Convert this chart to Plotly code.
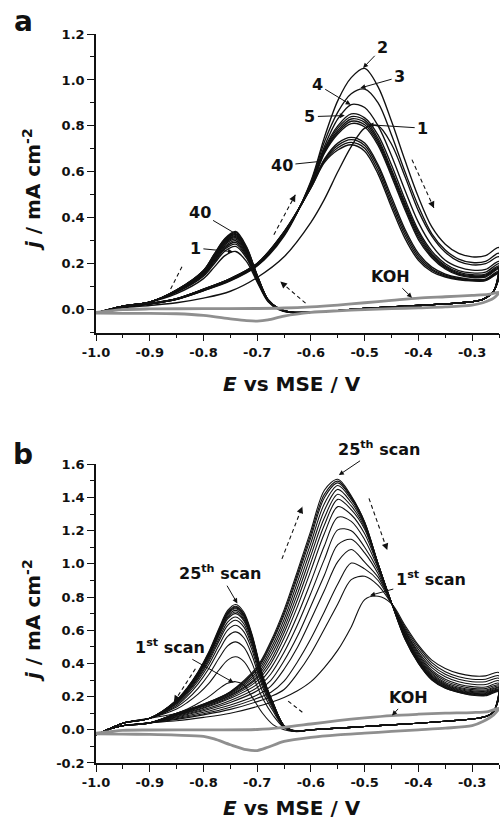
import plotly.graph_objects as go

# ---------------- panel (a): scans 1 ... 40 ----------------
EA_FWD = [-1.0, -0.95, -0.9, -0.85, -0.8, -0.75, -0.7, -0.65, -0.6, -0.575, -0.55,
          -0.525, -0.5, -0.475, -0.45, -0.425, -0.4, -0.375, -0.35, -0.325, -0.3, -0.275, -0.25]
# anodic branches (mA cm-2), scan 1, 2, 3, 4, 5, then later scans down to scan 40
A_FWD = [
    [-0.012, 0.008, 0.018, 0.03, 0.05, 0.08, 0.14, 0.23, 0.38, 0.48, 0.60, 0.71, 0.79, 0.80, 0.72, 0.58, 0.43, 0.32, 0.25, 0.21, 0.195, 0.20, 0.23],
    [-0.015, 0.012, 0.025, 0.045, 0.082, 0.125, 0.19, 0.32, 0.56, 0.75, 0.91, 1.01, 1.05, 0.97, 0.82, 0.65, 0.49, 0.36, 0.285, 0.245, 0.23, 0.235, 0.27],
    [-0.015, 0.012, 0.025, 0.045, 0.083, 0.127, 0.192, 0.325, 0.555, 0.73, 0.86, 0.94, 0.96, 0.90, 0.76, 0.60, 0.45, 0.33, 0.26, 0.22, 0.205, 0.21, 0.245],
    [-0.015, 0.012, 0.025, 0.045, 0.084, 0.128, 0.193, 0.328, 0.55, 0.71, 0.83, 0.893, 0.88, 0.80, 0.67, 0.52, 0.38, 0.28, 0.215, 0.185, 0.172, 0.175, 0.21],
    [-0.015, 0.012, 0.025, 0.045, 0.085, 0.13, 0.195, 0.33, 0.545, 0.70, 0.80, 0.852, 0.835, 0.76, 0.63, 0.48, 0.345, 0.255, 0.20, 0.17, 0.16, 0.163, 0.20],
    [-0.015, 0.012, 0.025, 0.046, 0.086, 0.131, 0.196, 0.332, 0.545, 0.695, 0.79, 0.84, 0.825, 0.745, 0.61, 0.465, 0.335, 0.245, 0.192, 0.163, 0.152, 0.155, 0.19],
    [-0.015, 0.012, 0.025, 0.046, 0.086, 0.132, 0.197, 0.333, 0.54, 0.69, 0.78, 0.83, 0.815, 0.735, 0.60, 0.455, 0.325, 0.238, 0.187, 0.158, 0.148, 0.15, 0.185],
    [-0.015, 0.012, 0.026, 0.047, 0.087, 0.133, 0.198, 0.334, 0.54, 0.685, 0.772, 0.82, 0.805, 0.725, 0.59, 0.445, 0.315, 0.232, 0.182, 0.154, 0.144, 0.146, 0.18],
    [-0.015, 0.012, 0.026, 0.047, 0.087, 0.133, 0.199, 0.335, 0.535, 0.68, 0.765, 0.81, 0.795, 0.715, 0.58, 0.435, 0.305, 0.226, 0.177, 0.15, 0.14, 0.142, 0.178],
    [-0.015, 0.012, 0.026, 0.047, 0.088, 0.134, 0.20, 0.336, 0.535, 0.655, 0.725, 0.75, 0.725, 0.63, 0.49, 0.35, 0.245, 0.185, 0.155, 0.14, 0.132, 0.133, 0.168],
    [-0.015, 0.012, 0.026, 0.048, 0.088, 0.134, 0.20, 0.337, 0.533, 0.65, 0.715, 0.74, 0.715, 0.62, 0.475, 0.338, 0.235, 0.178, 0.15, 0.136, 0.129, 0.13, 0.163],
    [-0.015, 0.012, 0.027, 0.048, 0.089, 0.135, 0.201, 0.338, 0.531, 0.645, 0.705, 0.728, 0.703, 0.605, 0.46, 0.325, 0.225, 0.172, 0.146, 0.133, 0.127, 0.128, 0.16],
    [-0.015, 0.012, 0.027, 0.048, 0.089, 0.135, 0.202, 0.34, 0.53, 0.64, 0.695, 0.718, 0.69, 0.59, 0.445, 0.31, 0.215, 0.165, 0.142, 0.13, 0.125, 0.126, 0.157],
]
# cathodic branches: common tail, scan-dependent peak region, common foot
EA_REV_BASE = [-0.26, -0.28, -0.3, -0.35, -0.4, -0.45, -0.5, -0.55, -0.6]
EA_REV_PEAK = [-0.64, -0.66, -0.68, -0.7, -0.72, -0.74, -0.76, -0.78, -0.8, -0.85]
EA_REV_FOOT = [-0.9, -0.95, -1.0]
A_REV_BASE = [0.08, 0.045, 0.035, 0.025, 0.018, 0.012, 0.005, -0.004, -0.012]
A_REV_PEAK = [
    [-0.012, 0.0, 0.035, 0.12, 0.21, 0.253, 0.235, 0.185, 0.135, 0.07],
    [-0.012, 0.002, 0.038, 0.125, 0.225, 0.275, 0.255, 0.20, 0.145, 0.075],
    [-0.012, 0.002, 0.039, 0.13, 0.232, 0.285, 0.264, 0.207, 0.15, 0.077],
    [-0.011, 0.003, 0.04, 0.133, 0.238, 0.293, 0.27, 0.212, 0.153, 0.078],
    [-0.011, 0.003, 0.04, 0.137, 0.244, 0.30, 0.276, 0.217, 0.156, 0.08],
    [-0.011, 0.004, 0.041, 0.14, 0.25, 0.307, 0.283, 0.222, 0.159, 0.081],
    [-0.011, 0.004, 0.041, 0.142, 0.255, 0.313, 0.288, 0.226, 0.162, 0.082],
    [-0.01, 0.004, 0.042, 0.144, 0.259, 0.318, 0.292, 0.229, 0.164, 0.083],
    [-0.01, 0.005, 0.042, 0.145, 0.262, 0.322, 0.296, 0.232, 0.166, 0.084],
    [-0.01, 0.005, 0.043, 0.147, 0.265, 0.327, 0.30, 0.235, 0.167, 0.084],
    [-0.01, 0.005, 0.043, 0.148, 0.268, 0.331, 0.304, 0.237, 0.168, 0.085],
    [-0.01, 0.005, 0.044, 0.149, 0.271, 0.336, 0.307, 0.24, 0.17, 0.085],
    [-0.01, 0.005, 0.044, 0.15, 0.274, 0.34, 0.31, 0.242, 0.171, 0.086],
]
A_REV_FOOT = [0.033, 0.015, -0.015]

# blank electrolyte (KOH), panel (a)
A_KOH_E = [-1.0, -0.95, -0.9, -0.8, -0.7, -0.65, -0.6, -0.55, -0.5, -0.45, -0.4, -0.35, -0.3, -0.27, -0.25,
           -0.26, -0.28, -0.3, -0.35, -0.4, -0.45, -0.5, -0.55, -0.6, -0.65, -0.68, -0.7, -0.72, -0.75,
           -0.8, -0.85, -0.9, -0.95, -1.0]
A_KOH_J = [-0.012, 0.0, 0.003, 0.004, 0.005, 0.007, 0.012, 0.02, 0.03, 0.04, 0.05, 0.056, 0.062, 0.066, 0.075,
           0.05, 0.03, 0.02, 0.012, 0.008, 0.004, 0.0, -0.005, -0.012, -0.028, -0.045, -0.05, -0.048, -0.04,
           -0.025, -0.018, -0.016, -0.016, -0.015]

# ---------------- panel (b): scans 1 ... 25 ----------------
EB_FWD_FOOT = [-1.0, -0.97, -0.95, -0.9]
B_FWD_FOOT = [-0.03, 0.01, 0.025, 0.042]
EB_FWD = [-0.85, -0.8, -0.75, -0.7, -0.675, -0.65, -0.625, -0.6, -0.575, -0.55, -0.525, -0.5,
          -0.475, -0.45, -0.425, -0.4, -0.375, -0.35, -0.325, -0.3, -0.275, -0.25]
B_FWD = [
    [0.055, 0.075, 0.10, 0.14, 0.165, 0.195, 0.235, 0.29, 0.375, 0.48, 0.62, 0.785, 0.805, 0.76, 0.63, 0.51, 0.42, 0.37, 0.34, 0.325, 0.325, 0.345],
    [0.063, 0.09, 0.123, 0.17, 0.20, 0.243, 0.34, 0.46, 0.607, 0.758, 0.905, 0.925, 0.87, 0.76, 0.62, 0.50, 0.405, 0.35, 0.32, 0.305, 0.305, 0.325],
    [0.068, 0.097, 0.136, 0.19, 0.225, 0.293, 0.41, 0.55, 0.712, 0.879, 1.005, 0.97, 0.90, 0.762, 0.61, 0.485, 0.39, 0.335, 0.305, 0.29, 0.29, 0.31],
    [0.073, 0.106, 0.15, 0.21, 0.262, 0.365, 0.498, 0.665, 0.839, 1.014, 1.087, 1.01, 0.92, 0.764, 0.60, 0.47, 0.375, 0.32, 0.29, 0.275, 0.273, 0.295],
    [0.078, 0.115, 0.165, 0.235, 0.297, 0.416, 0.565, 0.746, 0.932, 1.116, 1.148, 1.066, 0.94, 0.765, 0.595, 0.46, 0.36, 0.305, 0.275, 0.26, 0.258, 0.28],
    [0.082, 0.122, 0.177, 0.255, 0.335, 0.467, 0.633, 0.824, 1.027, 1.205, 1.20, 1.10, 0.96, 0.765, 0.59, 0.45, 0.35, 0.295, 0.265, 0.25, 0.248, 0.27],
    [0.086, 0.13, 0.19, 0.275, 0.369, 0.512, 0.69, 0.894, 1.109, 1.281, 1.256, 1.146, 0.975, 0.765, 0.58, 0.44, 0.34, 0.285, 0.257, 0.242, 0.24, 0.262],
    [0.089, 0.135, 0.198, 0.295, 0.397, 0.553, 0.744, 0.961, 1.183, 1.345, 1.296, 1.181, 0.985, 0.765, 0.575, 0.432, 0.333, 0.278, 0.25, 0.235, 0.233, 0.255],
    [0.091, 0.14, 0.205, 0.31, 0.418, 0.584, 0.785, 1.009, 1.234, 1.389, 1.327, 1.209, 0.99, 0.765, 0.57, 0.425, 0.325, 0.272, 0.245, 0.23, 0.228, 0.25],
    [0.093, 0.143, 0.21, 0.32, 0.443, 0.611, 0.821, 1.051, 1.278, 1.42, 1.349, 1.221, 0.995, 0.765, 0.565, 0.42, 0.32, 0.267, 0.24, 0.225, 0.223, 0.245],
    [0.095, 0.147, 0.216, 0.335, 0.466, 0.638, 0.856, 1.09, 1.322, 1.449, 1.37, 1.233, 1.0, 0.765, 0.56, 0.415, 0.315, 0.262, 0.236, 0.221, 0.219, 0.241],
    [0.097, 0.15, 0.221, 0.35, 0.487, 0.665, 0.891, 1.127, 1.363, 1.472, 1.387, 1.239, 1.0, 0.765, 0.555, 0.41, 0.31, 0.258, 0.232, 0.217, 0.215, 0.238],
    [0.098, 0.152, 0.225, 0.363, 0.508, 0.692, 0.921, 1.16, 1.399, 1.488, 1.398, 1.248, 1.0, 0.765, 0.55, 0.405, 0.305, 0.255, 0.229, 0.214, 0.212, 0.235],
    [0.099, 0.154, 0.228, 0.371, 0.519, 0.707, 0.939, 1.181, 1.419, 1.499, 1.404, 1.253, 1.0, 0.765, 0.548, 0.402, 0.302, 0.252, 0.227, 0.211, 0.209, 0.232],
    [0.10, 0.155, 0.23, 0.381, 0.531, 0.723, 0.958, 1.202, 1.444, 1.51, 1.411, 1.25, 1.0, 0.765, 0.545, 0.40, 0.30, 0.25, 0.225, 0.208, 0.205, 0.23],
]
EB_REV_BASE = [-0.26, -0.275, -0.3, -0.35, -0.4, -0.45, -0.5, -0.55, -0.6]
EB_REV_PEAK = [-0.63, -0.65, -0.67, -0.69, -0.71, -0.725, -0.74, -0.755, -0.77, -0.79, -0.81, -0.83, -0.85]
EB_REV_FOOT = [-0.9, -0.95, -1.0]
B_REV_BASE = [0.11, 0.08, 0.065, 0.052, 0.04, 0.03, 0.02, 0.01, 0.0]
B_REV_PEAK = [
    [-0.01, 0.0, 0.03, 0.10, 0.20, 0.27, 0.29, 0.28, 0.25, 0.20, 0.16, 0.125, 0.10],
    [-0.01, 0.012, 0.085, 0.19, 0.335, 0.413, 0.44, 0.42, 0.365, 0.28, 0.215, 0.165, 0.125],
    [-0.01, 0.015, 0.11, 0.23, 0.405, 0.498, 0.53, 0.506, 0.437, 0.333, 0.25, 0.185, 0.138],
    [-0.01, 0.018, 0.123, 0.257, 0.452, 0.555, 0.59, 0.563, 0.485, 0.37, 0.277, 0.203, 0.147],
    [-0.009, 0.02, 0.132, 0.274, 0.483, 0.592, 0.63, 0.601, 0.517, 0.394, 0.294, 0.215, 0.155],
    [-0.009, 0.021, 0.139, 0.287, 0.506, 0.62, 0.66, 0.63, 0.542, 0.412, 0.307, 0.224, 0.16],
    [-0.008, 0.022, 0.144, 0.297, 0.522, 0.639, 0.68, 0.649, 0.558, 0.424, 0.316, 0.23, 0.164],
    [-0.008, 0.023, 0.148, 0.306, 0.537, 0.658, 0.70, 0.668, 0.575, 0.436, 0.325, 0.237, 0.168],
    [-0.008, 0.023, 0.15, 0.31, 0.545, 0.667, 0.71, 0.677, 0.583, 0.442, 0.33, 0.24, 0.17],
    [-0.007, 0.024, 0.153, 0.315, 0.553, 0.677, 0.72, 0.687, 0.591, 0.449, 0.334, 0.243, 0.172],
    [-0.007, 0.024, 0.155, 0.319, 0.561, 0.686, 0.73, 0.696, 0.599, 0.455, 0.339, 0.247, 0.174],
    [-0.007, 0.024, 0.156, 0.321, 0.564, 0.691, 0.735, 0.701, 0.603, 0.458, 0.341, 0.248, 0.175],
    [-0.006, 0.025, 0.157, 0.323, 0.568, 0.696, 0.74, 0.706, 0.608, 0.461, 0.343, 0.25, 0.176],
    [-0.006, 0.025, 0.158, 0.326, 0.572, 0.70, 0.745, 0.711, 0.612, 0.464, 0.346, 0.252, 0.178],
    [-0.005, 0.025, 0.16, 0.33, 0.58, 0.71, 0.755, 0.72, 0.62, 0.47, 0.35, 0.255, 0.18],
]
B_REV_FOOT = [0.07, 0.04, -0.03]

B_KOH_E = [-1.0, -0.95, -0.9, -0.8, -0.7, -0.65, -0.6, -0.55, -0.5, -0.45, -0.4, -0.35, -0.3, -0.27, -0.25,
           -0.26, -0.28, -0.3, -0.35, -0.4, -0.45, -0.5, -0.55, -0.6, -0.65, -0.68, -0.7, -0.72, -0.75,
           -0.78, -0.8, -0.85, -0.9, -0.95, -1.0]
B_KOH_J = [-0.02, -0.003, -0.001, 0.0, 0.002, 0.015, 0.035, 0.055, 0.072, 0.086, 0.094, 0.10, 0.104, 0.11, 0.13,
           0.09, 0.05, 0.025, 0.01, 0.0, -0.01, -0.02, -0.03, -0.045, -0.07, -0.105, -0.125, -0.12, -0.09,
           -0.055, -0.04, -0.032, -0.028, -0.026, -0.025]

# axis ticks
X_TICKS = [-1.0, -0.9, -0.8, -0.7, -0.6, -0.5, -0.4, -0.3]
X_TICKTEXT = ["-1.0", "-0.9", "-0.8", "-0.7", "-0.6", "-0.5", "-0.4", "-0.3"]
A_YTICKS = [0.0, 0.2, 0.4, 0.6, 0.8, 1.0, 1.2]
A_YTICKTEXT = ["0.0", "0.2", "0.4", "0.6", "0.8", "1.0", "1.2"]
B_YTICKS = [-0.2, 0.0, 0.2, 0.4, 0.6, 0.8, 1.0, 1.2, 1.4, 1.6]
B_YTICKTEXT = ["-0.2", "0.0", "0.2", "0.4", "0.6", "0.8", "1.0", "1.2", "1.4", "1.6"]

BLACK = "#111111"
GREY = "#8f8f8f"
FONT = "DejaVu Sans"

fig = go.Figure()


def add_loop(xa, ya, fwd_e, fwd_j, rev_e, rev_j, width=1.1):
    fig.add_trace(go.Scatter(
        x=list(fwd_e) + list(rev_e), y=list(fwd_j) + list(rev_j), xaxis=xa, yaxis=ya,
        mode="lines", line=dict(color=BLACK, width=width, shape="spline", smoothing=0.9),
        hoverinfo="skip", showlegend=False))


# panel (a) loops
for fwd, peak in zip(A_FWD, A_REV_PEAK):
    add_loop("x", "y", EA_FWD, fwd,
             EA_REV_BASE + EA_REV_PEAK + EA_REV_FOOT, A_REV_BASE + peak + A_REV_FOOT, width=1.35)

# panel (b) loops
for fwd, peak in zip(B_FWD, B_REV_PEAK):
    add_loop("x2", "y2", EB_FWD_FOOT + EB_FWD, B_FWD_FOOT + fwd,
             EB_REV_BASE + EB_REV_PEAK + EB_REV_FOOT, B_REV_BASE + peak + B_REV_FOOT, width=1.1)

# KOH blanks
for xa, ya, e, j in (("x", "y", A_KOH_E, A_KOH_J), ("x2", "y2", B_KOH_E, B_KOH_J)):
    fig.add_trace(go.Scatter(x=e, y=j, xaxis=xa, yaxis=ya, mode="lines",
                             line=dict(color=GREY, width=2.8, shape="spline", smoothing=0.8),
                             hoverinfo="skip", showlegend=False))

# scan-direction arrows (dashed)
DIR_A = [((-0.84, 0.187), (-0.862, 0.086)), ((-0.669, 0.326), (-0.629, 0.50)),
         ((-0.412, 0.653), (-0.371, 0.442)), ((-0.61, 0.028), (-0.657, 0.122))]
DIR_B = [((-0.815, 0.368), (-0.855, 0.167)), ((-0.654, 1.03), (-0.616, 1.345)),
         ((-0.492, 1.395), (-0.458, 1.083)), ((-0.616, 0.106), (-0.644, 0.177))]

annotations = []
for xa, ya, arrows in (("x", "y", DIR_A), ("x2", "y2", DIR_B)):
    for (x0, y0), (x1, y1) in arrows:
        fig.add_trace(go.Scatter(x=[x0, x1], y=[y0, y1], xaxis=xa, yaxis=ya, mode="lines",
                                 line=dict(color=BLACK, width=1.1, dash="4px,3px"),
                                 hoverinfo="skip", showlegend=False))
        annotations.append(dict(x=x1, y=y1, ax=x1 - 0.12 * (x1 - x0), ay=y1 - 0.12 * (y1 - y0),
                                xref=xa, yref=ya, axref=xa, ayref=ya, text="", showarrow=True,
                                arrowhead=2, arrowsize=1.2, arrowwidth=1.1, arrowcolor=BLACK,
                                standoff=0, startstandoff=0))

# curve labels: (text, text position, arrow tip, arrow head style)
LABELS_A = [
    ("2", (-0.467, 1.14), (-0.503, 1.052), 2),
    ("3", (-0.435, 1.013), (-0.508, 0.965), 2),
    ("4", (-0.588, 0.98), (-0.526, 0.892), 2),
    ("5", (-0.602, 0.84), (-0.537, 0.845), 2),
    ("1", (-0.392, 0.79), (-0.493, 0.805), 2),
    ("40", (-0.654, 0.628), (-0.584, 0.645), 0),
    ("40", (-0.807, 0.423), (-0.745, 0.337), 0),
    ("1", (-0.815, 0.268), (-0.745, 0.252), 2),
    ("KOH", (-0.452, 0.144), (-0.412, 0.052), 2),
]
LABELS_B = [
    ("25<sup>th</sup> scan", (-0.474, 1.697), (-0.548, 1.535), 2),
    ("25<sup>th</sup> scan", (-0.77, 0.946), (-0.737, 0.762), 2),
    ("1<sup>st</sup> scan", (-0.377, 0.91), (-0.49, 0.81), 2),
    ("1<sup>st</sup> scan", (-0.862, 0.50), (-0.744, 0.285), 2),
    ("KOH", (-0.418, 0.197), (-0.449, 0.086), 2),
]
for xa, ya, labels in (("x", "y", LABELS_A), ("x2", "y2", LABELS_B)):
    for text, (tx, ty), (px, py), head in labels:
        annotations.append(dict(x=px, y=py, ax=tx, ay=ty, xref=xa, yref=ya, axref=xa, ayref=ya,
                                text=text, showarrow=True, arrowhead=head, arrowsize=1.0,
                                arrowwidth=1.0, arrowcolor=BLACK, standoff=0, startstandoff=1,
                                font=dict(family=FONT, size=16, color=BLACK, weight="bold")))

# panel letters and axis titles (positions in paper units, centred)
TITLE_FONT = dict(family=FONT, size=20, color=BLACK, weight="bold")
centred = dict(xref="paper", yref="paper", xanchor="center", yanchor="middle", showarrow=False)
for letter, ylet in (("a", 1.0165), ("b", 0.4225)):
    annotations.append(dict(centred, x=-0.181, y=ylet, text=letter,
                            font=dict(family=FONT, size=28, color=BLACK, weight="bold")))
for ytitle in (0.5199, -0.0617):
    annotations.append(dict(centred, x=0.4864, y=ytitle, text="<i>E</i> vs MSE / V", font=TITLE_FONT))
for ytitle in (0.786, 0.1948):
    annotations.append(dict(centred, x=-0.1588, y=ytitle, textangle=-90,
                            text="<i>j</i> / mA cm<sup>-2</sup>", font=TITLE_FONT))

TICK_FONT = dict(family=FONT, size=13, color=BLACK, weight="bold")
axis_common = dict(showline=True, linecolor=BLACK, linewidth=1.5, mirror=False, showgrid=False,
                   zeroline=False, ticks="outside", ticklen=7, tickwidth=1.4, tickcolor=BLACK,
                   tickfont=TICK_FONT)
xaxis_common = dict(axis_common, range=[-1.0, -0.25], tickmode="array", tickvals=X_TICKS,
                    ticktext=X_TICKTEXT,
                    minor=dict(ticks="outside", ticklen=4, tickwidth=1.2, tickcolor=BLACK,
                               tickmode="linear", tick0=-1.0, dtick=0.05))

fig.update_layout(
    width=500, height=826, paper_bgcolor="white", plot_bgcolor="white",
    margin=dict(l=96, r=1, t=34, b=63),
    xaxis=dict(xaxis_common, domain=[0, 1], anchor="y"),
    yaxis=dict(axis_common, domain=[0.5904, 1.0], anchor="x", range=[-0.1, 1.2],
               tickmode="array", tickvals=A_YTICKS, ticktext=A_YTICKTEXT,
               minor=dict(ticks="outside", ticklen=4, tickwidth=1.2, tickcolor=BLACK,
                          tickmode="linear", tick0=0.0, dtick=0.1)),
    xaxis2=dict(xaxis_common, domain=[0, 1], anchor="y2"),
    yaxis2=dict(axis_common, domain=[0, 0.4097], anchor="x2", range=[-0.2, 1.6],
                tickmode="array", tickvals=B_YTICKS, ticktext=B_YTICKTEXT,
                minor=dict(ticks="outside", ticklen=4, tickwidth=1.2, tickcolor=BLACK,
                           tickmode="linear", tick0=0.0, dtick=0.1)),
    annotations=annotations,
    showlegend=False,
)

fig.write_html("out.html")
